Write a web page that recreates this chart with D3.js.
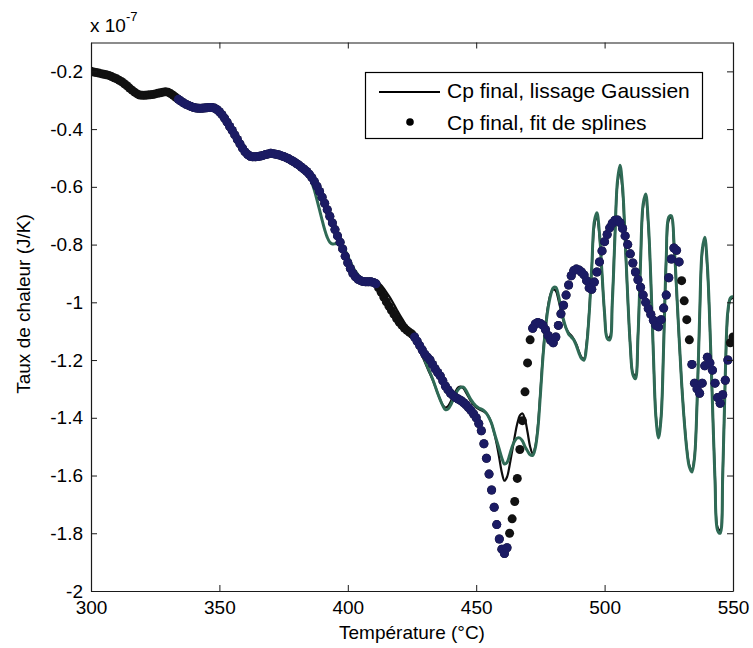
<!DOCTYPE html>
<html>
<head>
<meta charset="utf-8">
<script src="https://cdn.jsdelivr.net/npm/d3@7"></script>
<style>
  body { margin: 0; background: #fff; }
  text { font-family: Arial, "Liberation Sans", Helvetica, sans-serif; fill: #000; }
</style>
</head>
<body>
<svg id="chart" width="753" height="648"></svg>
<script>
// Temperature grid (°C), one sample per degree
const temperatures = d3.range(300, 551, 1);

// Cp final, fit de splines (units of 1e-7 J/K), 300..550 °C
const splineFit = [
  -0.200,-0.202,-0.204,-0.206,-0.208,-0.210,-0.212,-0.214,-0.218,-0.222, // 300
  -0.226,-0.231,-0.236,-0.243,-0.250,-0.258,-0.265,-0.272,-0.278,-0.282, // 310
  -0.283,-0.283,-0.282,-0.281,-0.280,-0.278,-0.276,-0.274,-0.272,-0.271, // 320
  -0.272,-0.277,-0.283,-0.290,-0.297,-0.303,-0.309,-0.314,-0.318,-0.322, // 330
  -0.325,-0.327,-0.328,-0.328,-0.327,-0.326,-0.325,-0.325,-0.327,-0.332, // 340
  -0.340,-0.350,-0.362,-0.376,-0.391,-0.405,-0.420,-0.436,-0.451,-0.466, // 350
  -0.479,-0.488,-0.494,-0.496,-0.496,-0.495,-0.493,-0.491,-0.488,-0.486, // 360
  -0.484,-0.485,-0.487,-0.489,-0.492,-0.495,-0.499,-0.503,-0.508,-0.513, // 370
  -0.519,-0.525,-0.532,-0.539,-0.547,-0.556,-0.568,-0.582,-0.598,-0.616, // 380
  -0.636,-0.657,-0.679,-0.702,-0.725,-0.748,-0.770,-0.792,-0.815,-0.840, // 390
  -0.863,-0.883,-0.900,-0.912,-0.920,-0.925,-0.928,-0.929,-0.929,-0.929, // 400
  -0.931,-0.936,-0.950,-0.965,-0.982,-0.998,-1.013,-1.028,-1.042,-1.056, // 410
  -1.068,-1.079,-1.089,-1.097,-1.104,-1.110,-1.120,-1.135,-1.150,-1.165, // 420
  -1.180,-1.190,-1.200,-1.215,-1.230,-1.243,-1.255,-1.272,-1.290,-1.303, // 430
  -1.315,-1.323,-1.330,-1.335,-1.340,-1.347,-1.355,-1.365,-1.375,-1.387, // 440
  -1.400,-1.420,-1.445,-1.490,-1.540,-1.595,-1.650,-1.710,-1.770,-1.820, // 450
  -1.855,-1.870,-1.850,-1.800,-1.750,-1.690,-1.610,-1.510,-1.410,-1.310, // 460
  -1.210,-1.130,-1.090,-1.075,-1.070,-1.073,-1.080,-1.095,-1.115,-1.132, // 470
  -1.140,-1.120,-1.080,-1.040,-1.010,-0.975,-0.940,-0.908,-0.890,-0.885, // 480
  -0.888,-0.895,-0.905,-0.925,-0.950,-0.955,-0.930,-0.895,-0.860,-0.822, // 490
  -0.790,-0.765,-0.742,-0.726,-0.716,-0.715,-0.724,-0.744,-0.770,-0.800, // 500
  -0.832,-0.864,-0.895,-0.922,-0.948,-0.975,-1.000,-1.022,-1.042,-1.062, // 510
  -1.080,-1.085,-1.060,-1.020,-0.975,-0.915,-0.850,-0.812,-0.820,-0.860, // 520
  -0.925,-0.995,-1.060,-1.130,-1.215,-1.280,-1.300,-1.315,-1.280,-1.220, // 530
  -1.190,-1.210,-1.235,-1.280,-1.330,-1.350,-1.320,-1.270,-1.200,-1.140, // 540
  -1.120                                                                   // 550
];

// Cp final, lissage Gaussien (units of 1e-7 J/K), 300..550 °C
const gaussSmooth = [
  -0.200,-0.202,-0.204,-0.206,-0.208,-0.210,-0.212,-0.214,-0.218,-0.222, // 300
  -0.226,-0.231,-0.236,-0.243,-0.250,-0.258,-0.265,-0.272,-0.278,-0.282, // 310
  -0.283,-0.283,-0.282,-0.281,-0.280,-0.278,-0.276,-0.274,-0.272,-0.271, // 320
  -0.272,-0.277,-0.283,-0.290,-0.297,-0.303,-0.309,-0.314,-0.318,-0.322, // 330
  -0.325,-0.327,-0.328,-0.328,-0.327,-0.326,-0.325,-0.325,-0.327,-0.332, // 340
  -0.340,-0.350,-0.362,-0.376,-0.391,-0.405,-0.420,-0.436,-0.451,-0.466, // 350
  -0.479,-0.488,-0.494,-0.496,-0.496,-0.495,-0.493,-0.491,-0.488,-0.486, // 360
  -0.484,-0.485,-0.487,-0.489,-0.492,-0.495,-0.499,-0.503,-0.508,-0.513, // 370
  -0.519,-0.525,-0.532,-0.539,-0.547,-0.556,-0.570,-0.585,-0.603,-0.625, // 380
  -0.650,-0.676,-0.700,-0.722,-0.742,-0.760,-0.776,-0.792,-0.812,-0.836, // 390
  -0.860,-0.880,-0.897,-0.910,-0.918,-0.923,-0.925,-0.926,-0.926,-0.925, // 400
  -0.925,-0.927,-0.932,-0.941,-0.952,-0.965,-0.978,-0.992,-1.008,-1.024, // 410
  -1.040,-1.055,-1.069,-1.082,-1.094,-1.108,-1.125,-1.145,-1.165,-1.186, // 420
  -1.207,-1.228,-1.248,-1.268,-1.290,-1.315,-1.338,-1.356,-1.365,-1.360, // 430
  -1.345,-1.327,-1.308,-1.295,-1.292,-1.298,-1.312,-1.328,-1.343,-1.355, // 440
  -1.364,-1.370,-1.374,-1.378,-1.385,-1.398,-1.420,-1.452,-1.492,-1.540, // 450
  -1.590,-1.618,-1.605,-1.565,-1.515,-1.465,-1.420,-1.392,-1.385,-1.405, // 460
  -1.450,-1.500,-1.525,-1.500,-1.430,-1.310,-1.180,-1.080,-1.010,-0.970, // 470
  -0.955,-0.960,-0.990,-1.030,-1.065,-1.090,-1.105,-1.115,-1.128,-1.145, // 480
  -1.170,-1.190,-1.195,-1.140,-1.030,-0.880,-0.735,-0.700,-0.770,-0.905, // 490
  -1.040,-1.120,-1.120,-0.990,-0.770,-0.590,-0.545,-0.615,-0.790,-0.985, // 500
  -1.150,-1.245,-1.255,-1.110,-0.860,-0.670,-0.635,-0.730,-0.925,-1.180, // 510
  -1.395,-1.465,-1.395,-1.140,-0.850,-0.715,-0.705,-0.800,-0.960,-1.125, // 520
  -1.280,-1.405,-1.505,-1.565,-1.580,-1.535,-1.350,-1.055,-0.830,-0.785, // 530
  -0.880,-1.085,-1.350,-1.610,-1.780,-1.790,-1.600,-1.255,-1.040,-0.990, // 540
  -0.985                                                                   // 550
];

// Raw Cp trace (units of 1e-7 J/K), 300..550 °C
const rawTrace = [
  -0.200,-0.202,-0.204,-0.206,-0.208,-0.210,-0.212,-0.214,-0.218,-0.222, // 300
  -0.226,-0.231,-0.236,-0.243,-0.250,-0.258,-0.265,-0.272,-0.278,-0.282, // 310
  -0.283,-0.283,-0.282,-0.281,-0.280,-0.278,-0.276,-0.274,-0.272,-0.271, // 320
  -0.272,-0.277,-0.283,-0.290,-0.297,-0.303,-0.309,-0.314,-0.318,-0.322, // 330
  -0.325,-0.327,-0.328,-0.328,-0.327,-0.326,-0.325,-0.325,-0.327,-0.332, // 340
  -0.340,-0.350,-0.362,-0.376,-0.391,-0.405,-0.420,-0.436,-0.451,-0.466, // 350
  -0.479,-0.488,-0.494,-0.496,-0.496,-0.495,-0.493,-0.491,-0.488,-0.486, // 360
  -0.484,-0.485,-0.487,-0.489,-0.492,-0.495,-0.499,-0.503,-0.508,-0.513, // 370
  -0.519,-0.525,-0.532,-0.539,-0.547,-0.556,-0.585,-0.612,-0.645,-0.680, // 380
  -0.715,-0.748,-0.775,-0.792,-0.798,-0.797,-0.795,-0.797,-0.805,-0.820, // 390
  -0.840,-0.860,-0.878,-0.893,-0.905,-0.914,-0.920,-0.923,-0.925,-0.926, // 400
  -0.927,-0.936,-0.950,-0.965,-0.982,-0.998,-1.013,-1.028,-1.042,-1.056, // 410
  -1.068,-1.079,-1.089,-1.097,-1.104,-1.110,-1.125,-1.140,-1.160,-1.180, // 420
  -1.200,-1.222,-1.243,-1.265,-1.290,-1.315,-1.338,-1.358,-1.372,-1.370, // 430
  -1.357,-1.337,-1.317,-1.302,-1.295,-1.294,-1.305,-1.322,-1.338,-1.350, // 440
  -1.360,-1.366,-1.370,-1.375,-1.385,-1.400,-1.420,-1.450,-1.480,-1.510, // 450
  -1.540,-1.560,-1.555,-1.530,-1.500,-1.480,-1.470,-1.470,-1.480,-1.500, // 460
  -1.515,-1.528,-1.530,-1.505,-1.440,-1.320,-1.190,-1.090,-1.020,-0.975, // 470
  -0.950,-0.948,-0.975,-1.020,-1.060,-1.090,-1.110,-1.120,-1.130,-1.150, // 480
  -1.175,-1.195,-1.200,-1.150,-1.040,-0.880,-0.720,-0.690,-0.760,-0.900, // 490
  -1.040,-1.125,-1.130,-1.000,-0.780,-0.580,-0.525,-0.600,-0.780,-0.980, // 500
  -1.150,-1.250,-1.265,-1.120,-0.860,-0.660,-0.625,-0.720,-0.920,-1.180, // 510
  -1.400,-1.470,-1.400,-1.150,-0.850,-0.705,-0.700,-0.790,-0.950,-1.120, // 520
  -1.280,-1.410,-1.510,-1.570,-1.588,-1.540,-1.350,-1.050,-0.820,-0.775, // 530
  -0.870,-1.080,-1.350,-1.620,-1.790,-1.800,-1.600,-1.250,-1.030,-0.985, // 540
  -0.980                                                                   // 550
];

// Temperature spans (°C) where the spline points are re-plotted in navy
const navyRanges = [[334, 411], [426, 462], [472, 529], [534, 548]];

// Axis ticks
const xTicks = [300, 350, 400, 450, 500, 550];
const yTicks = [-2, -1.8, -1.6, -1.4, -1.2, -1, -0.8, -0.6, -0.4, -0.2];

// Legend entries
const legendLabels = ["Cp final, lissage Gaussien", "Cp final, fit de splines"];

// ---------------------------------------------------------------
const svg = d3.select("#chart");
const plot = { left: 91, right: 733, top: 42.5, bottom: 591 };

const x = d3.scaleLinear().domain([300, 550]).range([plot.left, plot.right]);
const y = d3.scaleLinear().domain([-2, -0.1]).range([plot.bottom, plot.top]);

const pts = arr => temperatures.map((t, i) => ({ t, v: arr[i] }));
const splinePts = pts(splineFit);
const navyPts = splinePts.filter(p => navyRanges.some(([a, b]) => p.t >= a && p.t <= b));

svg.append("defs").append("clipPath").attr("id", "plotClip")
  .append("rect")
  .attr("x", plot.left).attr("y", plot.top)
  .attr("width", plot.right - plot.left).attr("height", plot.bottom - plot.top);

const layer = svg.append("g").attr("clip-path", "url(#plotClip)");

const line = d3.line()
  .x(d => x(d.t)).y(d => y(d.v))
  .curve(d3.curveCatmullRom.alpha(0.5));

const markerR = 4.5;

// Gaussian-smoothed curve
layer.append("path")
  .datum(pts(gaussSmooth))
  .attr("d", line)
  .attr("fill", "none")
  .attr("stroke", "#0d0d0d")
  .attr("stroke-width", 2.2);

// Raw trace
layer.append("path")
  .datum(pts(rawTrace))
  .attr("d", line)
  .attr("fill", "none")
  .attr("stroke", "#2f6a55")
  .attr("stroke-width", 3)
  .attr("stroke-linejoin", "round");

// Spline fit markers
layer.append("g").selectAll("circle")
  .data(splinePts)
  .join("circle")
  .attr("cx", d => x(d.t)).attr("cy", d => y(d.v))
  .attr("r", markerR)
  .attr("fill", "#111");

layer.append("g").selectAll("circle")
  .data(navyPts)
  .join("circle")
  .attr("cx", d => x(d.t)).attr("cy", d => y(d.v))
  .attr("r", markerR)
  .attr("fill", "#1b1b63");

// ---------------------------------------------------------------
// Axes: box with inward ticks on all four sides
const fmt = d => String(+d.toFixed(1));
const axisColor = "#1a1a1a";

function styleAxis(g) {
  g.select(".domain").attr("stroke", axisColor);
  g.selectAll(".tick line").attr("stroke", axisColor);
  g.selectAll(".tick text").attr("font-size", 19).attr("fill", "#000");
}

svg.append("g")
  .attr("transform", `translate(0,${plot.bottom})`)
  .call(d3.axisBottom(x).tickValues(xTicks).tickFormat(d3.format("d"))
    .tickSizeInner(-6).tickSizeOuter(0).tickPadding(10))
  .call(styleAxis);

svg.append("g")
  .attr("transform", `translate(0,${plot.top})`)
  .call(d3.axisTop(x).tickValues(xTicks).tickFormat("")
    .tickSizeInner(-6).tickSizeOuter(0))
  .call(styleAxis);

svg.append("g")
  .attr("transform", `translate(${plot.left},0)`)
  .call(d3.axisLeft(y).tickValues(yTicks).tickFormat(fmt)
    .tickSizeInner(-6).tickSizeOuter(0).tickPadding(8))
  .call(styleAxis);

svg.append("g")
  .attr("transform", `translate(${plot.right},0)`)
  .call(d3.axisRight(y).tickValues(yTicks).tickFormat("")
    .tickSizeInner(-6).tickSizeOuter(0))
  .call(styleAxis);

svg.selectAll(".domain").attr("stroke-width", 1.2);

// Exponent label
const expo = svg.append("text").attr("x", 90).attr("y", 32).attr("font-size", 19);
expo.append("tspan").text("x 10");
expo.append("tspan").attr("font-size", 13).attr("dy", -11).text("-7");

// Axis titles
svg.append("text")
  .attr("x", (plot.left + plot.right) / 2).attr("y", 639)
  .attr("text-anchor", "middle").attr("font-size", 19)
  .text("Température (°C)");

svg.append("text")
  .attr("transform", "translate(23,304) rotate(-90)")
  .attr("text-anchor", "middle").attr("dy", "0.35em").attr("font-size", 19)
  .text("Taux de chaleur (J/K)");

// ---------------------------------------------------------------
// Legend
const lg = svg.append("g");
lg.append("rect")
  .attr("x", 365.5).attr("y", 72.5).attr("width", 337).attr("height", 66)
  .attr("fill", "#fff").attr("stroke", "#000").attr("stroke-width", 1.2);

lg.append("line")
  .attr("x1", 379).attr("x2", 440).attr("y1", 92).attr("y2", 92)
  .attr("stroke", "#000").attr("stroke-width", 2.2);
lg.append("circle").attr("cx", 410).attr("cy", 122).attr("r", 3.8).attr("fill", "#000");

lg.selectAll("text.lab")
  .data(legendLabels)
  .join("text")
  .attr("class", "lab")
  .attr("x", 447)
  .attr("y", (d, i) => 98 + i * 32)
  .attr("font-size", 21)
  .text(d => d);
</script>
</body>
</html>
